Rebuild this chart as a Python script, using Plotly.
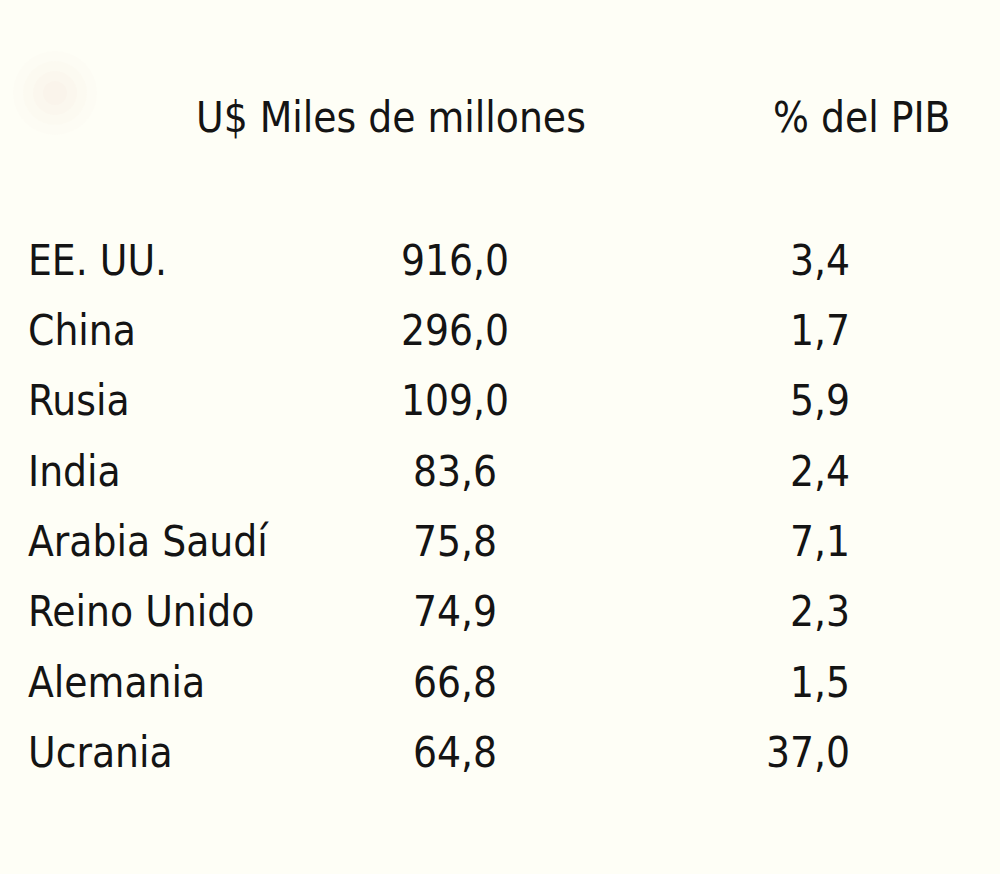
import plotly.graph_objects as go

countries = ["EE. UU.", "China", "Rusia", "India", "Arabia Saudí", "Reino Unido", "Alemania", "Ucrania"]
spending_bn = [916.0, 296.0, 109.0, 83.6, 75.8, 74.9, 66.8, 64.8]
pct_gdp = [3.4, 1.7, 5.9, 2.4, 7.1, 2.3, 1.5, 37.0]
headers = ["U$ Miles de millones", "% del PIB"]

def fmt(v):
    return f"{v:.1f}".replace(".", ",")

BG = "#FEFEF6"
FONT = dict(family="DejaVu Sans Condensed", size=42, color="#141414")

fig = go.Figure()
fig.add_trace(go.Scatter(x=[28] * len(countries), y=countries, text=countries,
                         mode="text", textposition="middle right", textfont=FONT,
                         hoverinfo="skip", showlegend=False))
fig.add_trace(go.Scatter(x=[455] * len(countries), y=countries,
                         text=[fmt(v) for v in spending_bn],
                         mode="text", textposition="middle center", textfont=FONT,
                         hoverinfo="skip", showlegend=False))
fig.add_trace(go.Scatter(x=[850] * len(countries), y=countries,
                         text=[fmt(v) for v in pct_gdp],
                         mode="text", textposition="middle left", textfont=FONT,
                         hoverinfo="skip", showlegend=False))

fig.add_annotation(x=391, y=-2.08, xref="x", yref="y", text=headers[0],
                   showarrow=False, font=FONT, xanchor="center", yanchor="middle")
fig.add_annotation(x=862, y=-2.08, xref="x", yref="y", text=headers[1],
                   showarrow=False, font=FONT, xanchor="center", yanchor="middle")

# faint blurred spot at top-left
for r, a in [(42, 0.05), (32, 0.07), (22, 0.09), (12, 0.11)]:
    fig.add_shape(type="circle", xref="x", yref="paper",
                  x0=55 - r, x1=55 + r, y0=1 - (93 + r) / 874, y1=1 - (93 - r) / 874,
                  fillcolor=f"rgba(245,225,215,{a})", line_width=0, layer="below")

fig.update_layout(
    width=1000, height=874,
    margin=dict(l=0, r=0, t=0, b=0),
    paper_bgcolor=BG, plot_bgcolor=BG,
    xaxis=dict(range=[0, 1000], visible=False, fixedrange=True),
    yaxis=dict(type="category", categoryorder="array", categoryarray=countries,
               range=[8.665, -3.75], visible=False, fixedrange=True),
)
fig.write_html("out.html", config={"displayModeBar": False},
               post_script="document.body.style.margin='0';document.body.style.background='%s';" % BG)
